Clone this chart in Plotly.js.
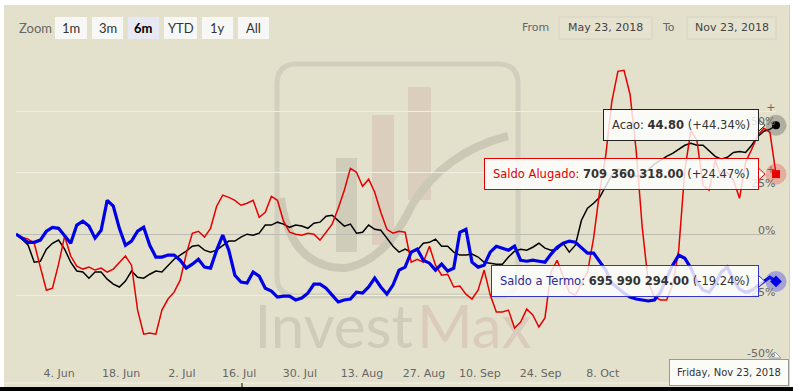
<!DOCTYPE html>
<html><head><meta charset="utf-8">
<script src="https://cdn.plot.ly/plotly-3.0.1.min.js"></script>
<style>html,body{margin:0;padding:0;background:#fff;}#chart{width:793px;height:391px;}</style>
</head><body><div id="chart"></div>
<script>
// ---- data (percent change vs. first point, compare mode) ----
const acao = [0, -2.0, -4.5, -11.4, -11.0, -6.1, -3.7, -2.4, -6.1, -11.4,
 -15.0, -15.4, -17.9, -15.4, -15.4, -18.3, -20.3, -21.5, -19.1, -15.0,
 -17.5, -17.9, -16.3, -15.0, -15.4, -12.6, -10.2, -8.5, -6.9, -4.9,
 -4.5, -6.5, -7.3, -6.5, -4.5, -2.8, -2.8, -1.2, 0, -0.4,
 0.4, 3.7, 3.7, 4.9, 4.1, 2.8, 3.7, 3.3, 2.4, 4.5,
 4.9, 7.3, 7.7, 5.3, 3.3, 4.1, 0.4, 0.8, 3.7, 2.0,
 1.6, -1.6, -4.9, -7.3, -6.1, -7.3, -6.5, -3.7, -3.3, -2.0,
 -4.9, -4.9, -7.3, -8.5, -8.5, -8.1, -9.3, -11.4, -11.8, -12.2,
 -12.2, -9.3, -6.9, -6.1, -6.5, -5.3, -3.7, -5.7, -6.5, -6.1,
 -3.7, -7.3, -4.5, 5.7, 10.6, 12.6, 15.0, 19.5, 24.0, 26.4,
 26.0, 24.4, 23.6, 24.0, 26.4, 28.5, 30.1, 31.7, 32.9, 34.6,
 36.2, 37.0, 36.2, 36.2, 34.1, 31.7, 30.5, 31.3, 33.3, 33.7,
 33.3, 36.2, 39.8, 41.9, 42.7, 44.34];
const alugado = [0, -1.2, -2.0, -3.7, -13.4, -22.8, -22.0, -12.2, -0.8, -8.9,
 -13.0, -14.2, -13.4, -14.6, -13.8, -15.4, -14.2, -11.4, -8.9, -12.6,
 -30.9, -40.7, -40.2, -40.7, -30.9, -26.4, -23.6, -18.7, -8.1, 0.4,
 1.2, -1.2, 2.4, 11.4, 15.9, 15.0, 13.8, 11.8, 12.6, 13.8,
 6.9, 8.9, 15.4, 13.8, 5.3, 0.8, 0, -0.4, 0.4, 0,
 -2.4, 0.8, 4.1, 10.6, 17.9, 26.8, 25.2, 19.5, 22.4, 17.1,
 8.9, 2.0, 0.4, 1.2, 0.8, -11.4, -10.2, -11.4, -4.9, -12.6,
 -16.7, -16.3, -21.5, -21.1, -24.4, -26.4, -22.8, -14.6, -24.8, -31.7,
 -31.7, -30.9, -38.2, -35.8, -30.5, -32.9, -37.8, -34.1, -15.4, -10.6,
 -16.7, -23.6, -24.8, -20.3, -15.4, -1.6, 17.5, 32.1, 54.1, 66.3,
 66.7, 56.9, 34.1, 2.8, -19.9, -25.6, -26.8, -26.8, -20.7, -6.5,
 26.0, 42.3, 38.2, 19.9, 17.9, 30.1, 23.2, 25.2, 22.0, 14.6,
 29.3, 34.6, 40.2, 43.1, 41.5, 24.47];
const termo = [0, -1.6, -3.3, -3.3, -2.4, 1.2, 2.8, 2.4, -0.8, -3.7,
 3.7, 5.3, 3.3, -1.6, 1.6, 13.8, 11.4, 2.4, -4.5, -2.8,
 1.2, 2.8, -4.5, -9.3, -9.3, -8.5, -8.5, -10.6, -13.8, -12.2,
 -10.2, -13.4, -13.8, -6.5, -0.4, -6.5, -16.7, -19.5, -19.9, -15.4,
 -17.1, -22.0, -23.2, -25.6, -25.2, -25.2, -26.8, -26.0, -24.0, -20.3,
 -20.3, -22.0, -24.8, -27.6, -26.8, -26.4, -23.6, -24.0, -21.5, -17.9,
 -21.5, -24.4, -20.7, -14.6, -13.4, -7.3, -6.1, -10.6, -11.8, -14.6,
 -12.2, -15.0, -13.8, 0.8, 2.0, -11.4, -13.4, -12.6, -7.3, -4.9,
 -5.7, -6.5, -4.9, -10.6, -11.0, -10.6, -11.0, -11.4, -8.1, -5.3,
 -3.7, -2.8, -3.3, -5.7, -7.7, -7.7, -11.4, -14.6, -19.9, -22.0,
 -24.0, -25.6, -26.4, -26.8, -27.2, -26.8, -23.6, -17.9, -12.6, -8.5,
 -9.8, -13.8, -19.5, -22.8, -23.6, -20.3, -15.4, -13.4, -18.7, -22.4,
 -23.6, -22.8, -21.1, -19.1, -17.5, -19.24];

const seriesNames = ['Acao', 'Saldo Alugado', 'Saldo a Termo'];
const lastValues = ['44.80', '709 360 318.00', '695 990 294.00'];
const lastDate = 'Friday, Nov 23, 2018';

// x tick labels (positions in trading-day index)
const xTickPos = [7.1, 17.3, 27.3, 36.7, 46.7, 56.9, 67.1, 76.3, 86.3, 96.5];
const xTickText = ['4. Jun', '18. Jun', '2. Jul', '16. Jul', '30. Jul', '13. Aug', '27. Aug', '10. Sep', '24. Sep', '8. Oct'];
const yTickVals = [-50, -25, 0, 25, 50];
const yTickText = ['-50%', '-25%', '0%', '+<br>25%', '+<br>50%'];

const rangeButtons = ['1m', '3m', '6m', 'YTD', '1y', 'All'];
const selectedButton = '6m';
const fromDate = 'May 23, 2018';
const toDate = 'Nov 23, 2018';

// ---- layout helpers ----
const W = 793, H = 391, ML = 16, MR = 17, MT = 50, MB = 34;
const PW = W - ML - MR, PH = H - MT - MB;
const X = p => (p - ML) / PW;
const Y = p => (H - MB - p) / PH;
const P = (x, y) => X(x) + ',' + Y(y);
const BG = '#e3e1cc';

const N = acao.length;
const idx = acao.map((_, i) => i);
const colors = ['#000000', '#e60000', '#0000e6'];
const series = [acao, alugado, termo];

const traces = [
  {x: idx, y: acao, type: 'scatter', mode: 'lines', line: {color: colors[0], width: 1.5}, hoverinfo: 'skip'},
  {x: idx, y: alugado, type: 'scatter', mode: 'lines', line: {color: colors[1], width: 1.5}, hoverinfo: 'skip'},
  {x: idx, y: termo, type: 'scatter', mode: 'lines', line: {color: colors[2], width: 3.2}, hoverinfo: 'skip'}
];
const halo = ['rgba(80,80,80,0.35)', 'rgba(230,40,40,0.28)', 'rgba(50,50,230,0.35)'];
const sym = ['circle', 'square', 'diamond'];
series.forEach((s, k) => {
  traces.push({x: [N - 1], y: [s[N - 1]], type: 'scatter', mode: 'markers', cliponaxis: false,
    marker: {size: 21, color: halo[k]}, hoverinfo: 'skip'});
  traces.push({x: [N - 1], y: [s[N - 1]], type: 'scatter', mode: 'markers', cliponaxis: false,
    marker: {size: k === 2 ? 9 : 8, color: colors[k], symbol: sym[k], line: {width: 0}}, hoverinfo: 'skip'});
});

const shapes = [];
const annotations = [];
const rect = (x0, y0, x1, y1, o) => Object.assign({type: 'rect', xref: 'paper', yref: 'paper',
  x0: X(x0), x1: X(x1), y0: Y(y1), y1: Y(y0), layer: 'below'}, o);

// background panel
shapes.push(rect(4, 5, 789, 387, {fillcolor: BG, line: {width: 0}}));
shapes.push({type: 'line', xref: 'paper', yref: 'paper', x0: X(789.5), x1: X(789.5), y0: Y(5), y1: Y(387),
  line: {color: '#cfcfcf', width: 1}, layer: 'below'});
// x-axis lines
shapes.push({type: 'line', xref: 'paper', yref: 'paper', x0: X(4), x1: X(789), y0: Y(383), y1: Y(383),
  line: {color: '#f1f0e6', width: 1}, layer: 'below'});
shapes.push(rect(0, 387, 793, 391, {fillcolor: '#000', line: {width: 0}, layer: 'above'}));
shapes.push({type: 'line', xref: 'paper', yref: 'paper', x0: X(242), x1: X(242), y0: Y(383), y1: Y(388),
  line: {color: '#000', width: 1}, layer: 'above'});

// watermark logo
shapes.push({type: 'path', xref: 'paper', yref: 'paper', layer: 'below',
  path: 'M' + P(297, 64) + ' L' + P(498, 64) + ' Q' + P(518, 64) + ' ' + P(518, 84) + ' L' + P(518, 276) +
    ' Q' + P(518, 296) + ' ' + P(498, 296) + ' L' + P(297, 296) + ' Q' + P(277, 296) + ' ' + P(277, 276) +
    ' L' + P(277, 84) + ' Q' + P(277, 64) + ' ' + P(297, 64) + ' Z',
  line: {color: '#d1cfbd', width: 5}, fillcolor: 'rgba(0,0,0,0)'});
shapes.push(rect(336, 158, 357, 252, {fillcolor: '#cfcdba', line: {width: 0}}));
shapes.push(rect(372, 115, 394, 245, {fillcolor: '#dbcebd', line: {width: 0}}));
shapes.push(rect(408, 87, 431, 200, {fillcolor: '#dbcebd', line: {width: 0}}));
shapes.push({type: 'path', xref: 'paper', yref: 'paper', layer: 'below',
  path: 'M' + P(281, 198) + ' Q' + P(290, 268) + ' ' + P(345, 268) + ' Q' + P(385, 262) + ' ' + P(412, 205) +
    ' Q' + P(445, 152) + ' ' + P(508, 136),
  line: {color: '#cbc9b6', width: 8}, fillcolor: 'rgba(0,0,0,0)'});
shapes.push(rect(266, 286, 416, 362, {line: {width: 0}, fillcolor: 'rgba(0,0,0,0)',
  label: {text: 'Invest', textposition: 'middle right', padding: 0,
    font: {family: 'Lato', size: 60, color: '#cfcdba'}}}));
shapes.push(rect(414, 286, 560, 362, {line: {width: 0}, fillcolor: 'rgba(0,0,0,0)',
  label: {text: 'Max', textposition: 'middle left', padding: 0,
    font: {family: 'Lato', size: 60, color: '#dacbbb'}}}));

// y-axis labels (inside, right aligned, above gridline)
yTickVals.forEach((v, i) => annotations.push({xref: 'paper', yref: 'y', x: X(776), y: v, xanchor: 'right',
  yanchor: 'top', yshift: 11, align: 'right', showarrow: false, text: yTickText[i], borderpad: 0,
  font: {family: 'DejaVu Sans', size: 11, color: '#666'}}));

// range selector
annotations.push({xref: 'paper', yref: 'paper', x: X(17), y: Y(28), xanchor: 'left', yanchor: 'middle',
  showarrow: false, text: 'Zoom', font: {family: 'Lato', size: 13, color: '#666'}});
const btnX = [[55, 87], [92, 123], [128, 159], [164, 197], [202, 233], [238, 269]];
rangeButtons.forEach((b, i) => {
  const sel = b === selectedButton;
  shapes.push(rect(btnX[i][0], 17, btnX[i][1], 39, {fillcolor: sel ? '#e6e9f3' : '#f7f7f5', line: {width: 0}}));
  annotations.push({xref: 'paper', yref: 'paper', x: X((btnX[i][0] + btnX[i][1]) / 2), y: Y(28),
    xanchor: 'center', yanchor: 'middle', showarrow: false, text: sel ? '<b>' + b + '</b>' : b,
    font: {family: 'Lato', size: 13, color: sel ? '#000' : '#333'}});
});
annotations.push({xref: 'paper', yref: 'paper', x: X(551), y: Y(28), xanchor: 'right', yanchor: 'middle',
  showarrow: false, text: 'From', font: {family: 'DejaVu Sans', size: 11, color: '#666'}});
annotations.push({xref: 'paper', yref: 'paper', x: X(677), y: Y(28), xanchor: 'right', yanchor: 'middle',
  showarrow: false, text: 'To', font: {family: 'DejaVu Sans', size: 11, color: '#666'}});
shapes.push(rect(559, 17, 652, 39, {fillcolor: 'rgba(255,255,255,0.08)', line: {color: '#d4d2c0', width: 1}}));
shapes.push(rect(687, 17, 776, 39, {fillcolor: 'rgba(255,255,255,0.08)', line: {color: '#d4d2c0', width: 1}}));
annotations.push({xref: 'paper', yref: 'paper', x: X(605.5), y: Y(28), xanchor: 'center', yanchor: 'middle',
  showarrow: false, text: fromDate, font: {family: 'DejaVu Sans', size: 11, color: '#444'}});
annotations.push({xref: 'paper', yref: 'paper', x: X(731.5), y: Y(28), xanchor: 'center', yanchor: 'middle',
  showarrow: false, text: toDate, font: {family: 'DejaVu Sans', size: 11, color: '#444'}});

// tooltips
const fmtPct = v => (v >= 0 ? '+' : '-') + Math.abs(v).toFixed(2) + '%';
const nameCol = ['#333333', '#e00000', '#2a2a9a'];
const borderCol = ['#222222', '#e00000', '#3434cc'];
const tipFill = 'rgba(255,255,255,0.82)';
series.forEach((s, k) => {
  const v = s[N - 1];
  annotations.push({xref: 'x', yref: 'y', x: N - 1, y: v, xanchor: 'right', yanchor: 'middle', xshift: -17,
    showarrow: false, bgcolor: tipFill, bordercolor: borderCol[k], borderwidth: 1, borderpad: 8,
    font: {family: 'DejaVu Sans', size: 11.5, color: '#333'},
    text: '<span style="color:' + nameCol[k] + '">' + seriesNames[k] + ':</span> <b>' + lastValues[k] + '</b> (' + fmtPct(v) + ')'});
  shapes.push({type: 'path', xref: 'x', yref: 'y', xsizemode: 'pixel', ysizemode: 'pixel', xanchor: N - 1, yanchor: v,
    path: 'M -17.5,6 L -11,0 L -17.5,-6 Z', fillcolor: tipFill, line: {color: borderCol[k], width: 1}, layer: 'above'});
});
// date tooltip
annotations.push({xref: 'paper', yref: 'paper', x: X(729), y: Y(372.5), xanchor: 'center', yanchor: 'middle',
  showarrow: false, bgcolor: 'rgba(255,255,255,0.85)', bordercolor: '#999', borderwidth: 1, borderpad: 7,
  text: lastDate, font: {family: 'DejaVu Sans', size: 10, color: '#333'}});
shapes.push({type: 'path', xref: 'paper', yref: 'paper', layer: 'above',
  path: 'M' + P(769, 358) + ' L' + P(775, 352) + ' L' + P(781, 358) + ' Z',
  fillcolor: 'rgba(255,255,255,0.85)', line: {color: '#999', width: 1}});

const layout = {
  width: W, height: H, margin: {l: ML, r: MR, t: MT, b: MB, pad: 0},
  paper_bgcolor: '#ffffff', plot_bgcolor: 'rgba(0,0,0,0)', showlegend: false,
  xaxis: {range: [0, N - 1], tickmode: 'array', tickvals: xTickPos, ticktext: xTickText, showgrid: false,
    zeroline: false, showline: false, ticks: '', ticklabelstandoff: 8, fixedrange: true,
    tickfont: {family: 'DejaVu Sans', size: 11, color: '#666'}},
  yaxis: {range: [-50, 75], tickmode: 'array', tickvals: [-50, -25, 0, 25, 50, 75], showticklabels: false,
    showgrid: true, gridcolor: '#efeee3', gridwidth: 1, zeroline: true, zerolinecolor: '#bdbcb2',
    zerolinewidth: 1, ticks: '', fixedrange: true},
  shapes: shapes, annotations: annotations, hovermode: false
};
Plotly.newPlot('chart', traces, layout, {displayModeBar: false, staticPlot: true});
</script></body></html>
